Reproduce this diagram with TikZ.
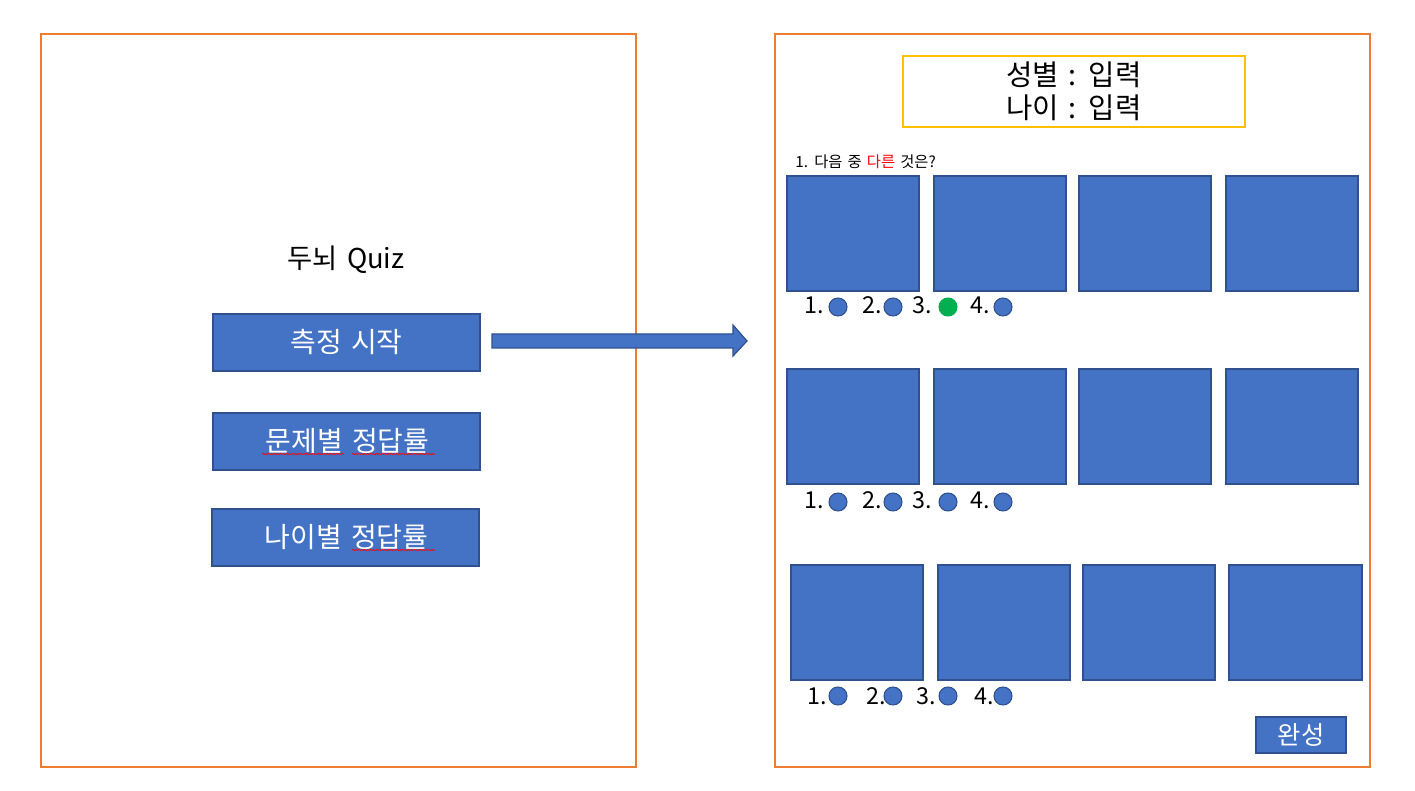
\documentclass[tikz,border=0pt]{standalone}
\usepackage{fontspec}
\setmainfont[WordSpace=1.5]{Noto Sans CJK KR}
\usetikzlibrary{decorations.pathmorphing}
\definecolor{orng}{HTML}{ED7D31}
\definecolor{blu}{HTML}{4472C4}
\definecolor{bluedge}{HTML}{2F528F}
\definecolor{yel}{HTML}{FFC000}
\definecolor{grn}{HTML}{00B050}
\definecolor{redtxt}{HTML}{FF0000}
\tikzset{
  panel/.style={draw=orng, line width=1.3pt},
  btn/.style={draw=bluedge, fill=blu, line width=1.2pt},
  btntext/.style={text=white, font=\fontsize{21pt}{24pt}\selectfont, inner sep=0pt},
  pic/.style={draw=bluedge, fill=blu, line width=1pt},
  num/.style={font=\fontsize{17.5pt}{20pt}\selectfont, anchor=base west, inner sep=0pt},
  radio/.style={circle, draw=bluedge, fill=blu, line width=0.8pt, minimum size=13.5pt, inner sep=0pt},
  radiog/.style={circle, draw=grn, fill=grn, line width=0.8pt, minimum size=13.5pt, inner sep=0pt},
  squig/.style={draw=red, line width=0.5pt, decorate, decoration={snake, amplitude=0.5pt, segment length=2.2pt}},
}
\begin{document}
\begin{tikzpicture}[x=0.75pt,y=-0.75pt]
\useasboundingbox (0,0) rectangle (1415,791);
% panels
\draw[panel] (41,34) rectangle (636,767);
\draw[panel] (775,34) rectangle (1370,767);
% left panel
\node[font=\fontsize{20.5pt}{24pt}\selectfont, inner sep=0pt] (title) at (346,260) {두뇌 Quiz};
\draw[btn] (213,314) rectangle (480,371);
\node[btntext] (b1) at (346.5,342.5) {측정 시작};
\draw[btn] (213,413) rectangle (480,470);
\node[btntext] (b2) at (347.5,441.5) {문제별 정답률};
\draw[btn] (212,509) rectangle (479,566);
\node[btntext] (b3) at (346.5,537.5) {나이별 정답률};
\draw[squig] (262,454) -- (344,454);
\draw[squig] (352,454) -- (435,454);
\draw[squig] (352,550) -- (435,550);
% arrow
\draw[draw=bluedge, fill=blu, line width=0.9pt]
  (492,334) -- (733,334) -- (733,325) -- (747,341) -- (733,356) -- (733,348) -- (492,348) -- cycle;
% right panel header
\draw[draw=yel, line width=1.3pt] (903,56) rectangle (1245,127);
\node[font=\fontsize{21.5pt}{25pt}\selectfont, align=center, inner sep=0pt] (info) at (1074,91) {성별 : 입력\\나이 : 입력};
\node[font=\fontsize{11.5pt}{13pt}\selectfont, anchor=base west, inner sep=0pt] (q) at (795,168) {1. 다음 중 \textcolor{redtxt}{다른} 것은?};
% row 1
\draw[pic] (787,176) rectangle (919,291);
\draw[pic] (934,176) rectangle (1066,291);
\draw[pic] (1079,176) rectangle (1211,291);
\draw[pic] (1226,176) rectangle (1358,291);
% row 2
\draw[pic] (787,369) rectangle (919,484);
\draw[pic] (934,369) rectangle (1066,484);
\draw[pic] (1079,369) rectangle (1211,484);
\draw[pic] (1226,369) rectangle (1358,484);
% row 3
\draw[pic] (791,565) rectangle (923,680);
\draw[pic] (938,565) rectangle (1070,680);
\draw[pic] (1083,565) rectangle (1215,680);
\draw[pic] (1229,565) rectangle (1362,680);
% radios row 1
\node[num] (r1n1) at (804,314) {1.};
\node[radio] (r1c1) at (838,307) {};
\node[num] (r1n2) at (862,314) {2.};
\node[radio] (r1c2) at (893,307) {};
\node[num] (r1n3) at (912,314) {3.};
\node[radiog] (r1c3) at (948,307) {};
\node[num] (r1n4) at (970,314) {4.};
\node[radio] (r1c4) at (1003,307) {};
% radios row 2
\node[num] (r2n1) at (804,509) {1.};
\node[radio] (r2c1) at (838,502) {};
\node[num] (r2n2) at (862,509) {2.};
\node[radio] (r2c2) at (893,502) {};
\node[num] (r2n3) at (912,509) {3.};
\node[radio] (r2c3) at (948,502) {};
\node[num] (r2n4) at (970,509) {4.};
\node[radio] (r2c4) at (1003,502) {};
% radios row 3
\node[num] (r3n1) at (807,704) {1.};
\node[radio] (r3c1) at (838,696) {};
\node[num] (r3n2) at (866,704) {2.};
\node[radio] (r3c2) at (893,696) {};
\node[num] (r3n3) at (916,704) {3.};
\node[radio] (r3c3) at (948,696) {};
\node[num] (r3n4) at (974,704) {4.};
\node[radio] (r3c4) at (1003,696) {};
% done button
\draw[btn] (1256,717) rectangle (1346,753);
\node[btntext, font=\fontsize{19pt}{22pt}\selectfont] (done) at (1301,735) {완성};
\end{tikzpicture}
\end{document}
